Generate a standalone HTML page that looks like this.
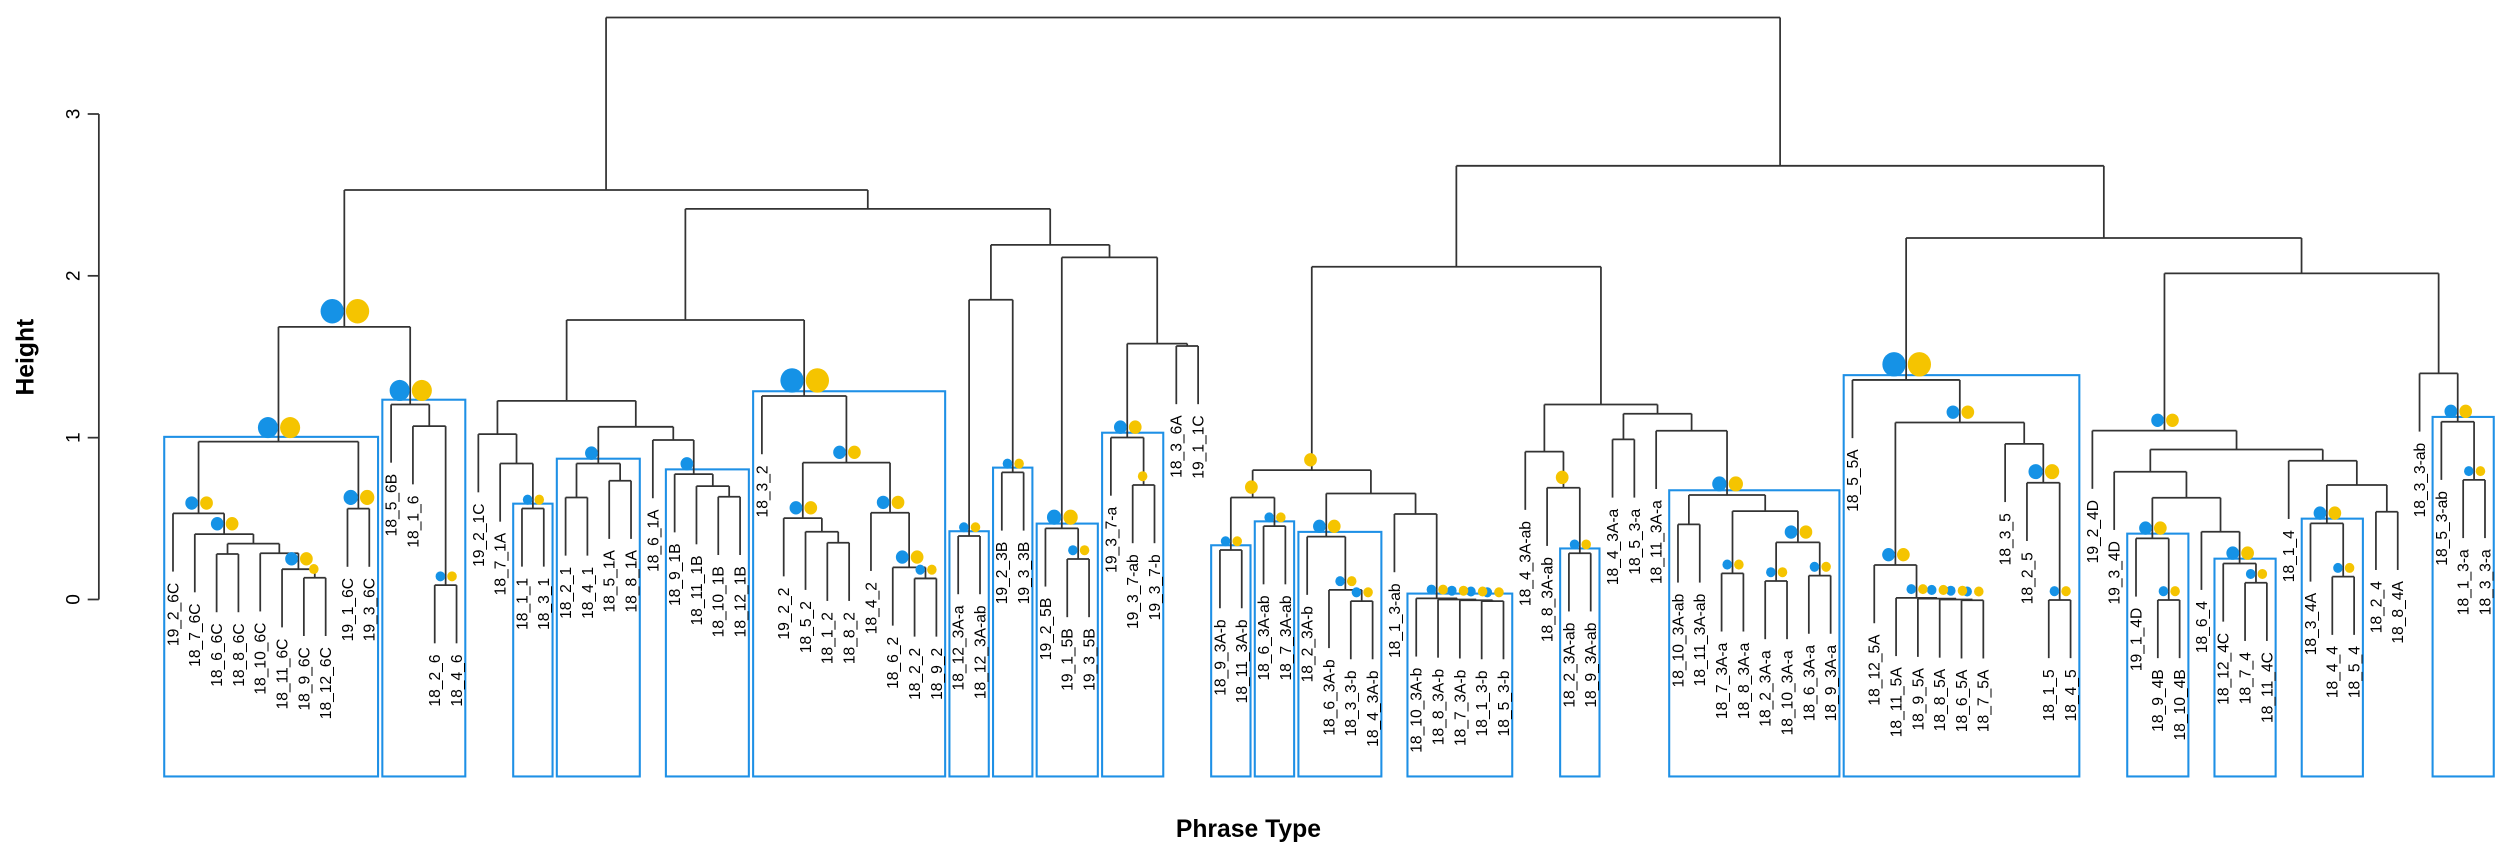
<!DOCTYPE html>
<html><head><meta charset="utf-8"><style>
html,body{margin:0;padding:0;background:#fff;}
svg{display:block;}
text{font-family:"Liberation Sans",Arial,sans-serif;}
</style></head><body>
<svg id="s" xmlns="http://www.w3.org/2000/svg" width="2500" height="849" viewBox="0 0 1568 532.5" preserveAspectRatio="none">
<rect x="0" y="0" width="1568" height="532.5" fill="#fff"/>
<g id="boxes"></g><g id="tree"></g><g id="labels"></g><g id="bub"></g>
<g stroke="#333" stroke-width="1.1">
<line x1="62" y1="71.5" x2="62" y2="376"/>
<line x1="55" y1="376" x2="62" y2="376"/><line x1="55" y1="274.5" x2="62" y2="274.5"/>
<line x1="55" y1="173" x2="62" y2="173"/><line x1="55" y1="71.5" x2="62" y2="71.5"/>
</g>
<g font-size="12" text-anchor="middle" fill="#000">
<text transform="translate(50,376) rotate(-90)">0</text>
<text transform="translate(50,274.5) rotate(-90)">1</text>
<text transform="translate(50,173) rotate(-90)">2</text>
<text transform="translate(50,71.5) rotate(-90)">3</text>
</g>
<text transform="translate(21,224) rotate(-90)" font-size="15.5" font-weight="bold" text-anchor="middle">Height</text>
<text x="783" y="525" font-size="15.5" font-weight="bold" text-anchor="middle">Phrase Type</text>
</svg>
<script>
var names=["19_2_6C","18_7_6C","18_6_6C","18_8_6C","18_10_6C","18_11_6C","18_9_6C","18_12_6C","19_1_6C","19_3_6C","18_5_6B","18_1_6","18_2_6","18_4_6","19_2_1C","18_7_1A","18_1_1","18_3_1","18_2_1","18_4_1","18_5_1A","18_8_1A","18_6_1A","18_9_1B","18_11_1B","18_10_1B","18_12_1B","18_3_2","19_2_2","18_5_2","18_1_2","18_8_2","18_4_2","18_6_2","18_2_2","18_9_2","18_12_3A-a","18_12_3A-ab","19_2_3B","19_3_3B","19_2_5B","19_1_5B","19_3_5B","19_3_7-a","19_3_7-ab","19_3_7-b","18_3_6A","19_1_1C","18_9_3A-b","18_11_3A-b","18_6_3A-ab","18_7_3A-ab","18_2_3A-b","18_6_3A-b","18_3_3-b","18_4_3A-b","18_1_3-ab","18_10_3A-b","18_8_3A-b","18_7_3A-b","18_1_3-b","18_5_3-b","18_4_3A-ab","18_8_3A-ab","18_2_3A-ab","18_9_3A-ab","18_4_3A-a","18_5_3-a","18_11_3A-a","18_10_3A-ab","18_11_3A-ab","18_7_3A-a","18_8_3A-a","18_2_3A-a","18_10_3A-a","18_6_3A-a","18_9_3A-a","18_5_5A","18_12_5A","18_11_5A","18_9_5A","18_8_5A","18_6_5A","18_7_5A","18_3_5","18_2_5","18_1_5","18_4_5","19_2_4D","19_3_4D","19_1_4D","18_9_4B","18_10_4B","18_6_4","18_12_4C","18_7_4","18_11_4C","18_1_4","18_3_4A","18_4_4","18_5_4","18_2_4","18_8_4A","18_3_3-ab","18_5_3-ab","18_1_3-a","18_3_3-a"];
function X(i){return 108.5+13.68*i;}
function N(y,a,b,opt){return {y:y,a:a,b:b,o:opt||{}};}
function o(b,box){var r={};if(b)r.b=b;if(box)r.box=1;return r;}
var BB=[4,'by'],SB=[3,'by'];
var a67=N(362.4,6,7,o([3,'y']));
var a5=N(357,5,a67,o(BB));
var a4=N(347,4,a5);
var a23=N(347.5,2,3);
var aN=N(341,a23,a4);
var aM=N(335,1,aN,o(BB));
var aL=N(322,0,aM,o(BB));
var a89=N(319,8,9,o([4.5,'by']));
var A1=N(277,aL,a89,o([6.3,'by'],1));
var a1213=N(367,12,13,o(SB));
var a11=N(267.3,11,a1213);
var A2=N(253.7,10,a11,o([6.3,'by'],1));
var A=N(205,A1,A2,o([7.3,'by']));
var b1617=N(318.9,16,17,o(SB,1));
var b15=N(290.7,15,b1617);
var b14=N(272.3,14,b15);
var b1819=N(312,18,19);
var b2021=N(301.5,20,21);
var bm=N(290.7,b1819,b2021,o([4,'b'],1));
var b2526=N(311.6,25,26);
var b24=N(304.9,24,b2526);
var b23=N(297.4,23,b24,o([4,'b'],1));
var b22=N(276,22,b23);
var br=N(267.7,bm,b22);
var B=N(251.4,b14,br);
var d3031=N(340.4,30,31);
var d29=N(333.5,29,d3031);
var d28=N(325,28,d29,o(BB));
var d3435=N(362.8,34,35,o(SB));
var d33=N(355.9,33,d3435,o(BB));
var d32=N(321.6,32,d33,o(BB));
var d1=N(290.2,d28,d32,o(BB));
var D=N(248.4,27,d1,o([7.3,'by'],1));
var C1=N(200.7,B,D);
var e1=N(336.2,36,37,o(SB,1));
var e2=N(296.3,38,39,o(SB,1));
var eL=N(188,e1,e2);
var e4142=N(350.6,41,42,o(SB));
var e40=N(331.4,40,e4142,o([4.5,'by'],1));
var e4445=N(304.2,44,45,o([3,'y']));
var e43=N(274.4,43,e4445,o(BB,1));
var e4647=N(217,46,47);
var eRR=N(215.5,e43,e4647);
var eR=N(161.4,e40,eRR);
var E=N(153.6,eL,eR);
var C0=N(131,C1,E);
var LM=N(119.2,A,C0);
var f4849=N(345,48,49,o(SB,1));
var f5051=N(330,50,51,o(SB,1));
var f1L=N(312,f4849,f5051,o([4,'y']));
var f5455=N(377,54,55,o(SB));
var f53=N(370,53,f5455,o(SB));
var f52=N(336.6,52,f53,o(BB,1));
var f6061=N(377,60,61,o(SB));
var f59=N(376.5,59,f6061,o(SB));
var f58=N(376,58,f59,o(SB));
var f57=N(375.3,57,f58,o(SB,1));
var f56=N(322.4,56,f57);
var fR=N(309.5,f52,f56);
var F1=N(294.9,f1L,fR,o([4,'y']));
var g6465=N(347,64,65,o(SB,1));
var g63=N(305.9,63,g6465,o([4,'y']));
var g62=N(283.3,62,g63);
var g6667=N(275.6,66,67);
var g6970=N(328.9,69,70);
var g7172=N(359.6,71,72,o(SB));
var g7374=N(364.4,73,74,o(SB));
var g7576=N(361,75,76,o(SB));
var g73=N(340.2,g7374,g7576,o(BB));
var g71=N(320.6,g7172,g73);
var K=N(310.5,g6970,g71,o([4.5,'by'],1));
var g68=N(270.2,68,K);
var g66=N(259.5,g6667,g68);
var F2=N(253.7,g62,g66);
var F=N(167.3,F1,F2);
var h8283=N(376.5,82,83,o(SB));
var h81=N(376,81,h8283,o(SB));
var h80=N(375.5,80,h81,o(SB));
var h79=N(375,79,h80,o(SB));
var h78=N(354.4,78,h79,o(BB));
var h8687=N(376.3,86,87,o(SB));
var h85=N(302.8,85,h8687,o([4.5,'by']));
var h84=N(278.4,84,h85);
var h1=N(265,h78,h84,o(BB));
var H=N(238.3,77,h1,o([7.3,'by'],1));
var i9192=N(376.3,91,92,o(SB));
var i90=N(337.7,90,i9192,o(BB,1));
var i9596=N(365.5,95,96,o(SB));
var i94=N(353.4,94,i9596,o(BB,1));
var i93=N(333.5,93,i94);
var i9x=N(312.2,i90,i93);
var i89=N(295.9,89,i9x);
var i99=N(361.7,99,100,o(SB));
var i98=N(328.3,98,i99,o(BB,1));
var i101=N(321,101,102);
var i98b=N(304.2,i98,i101);
var i97=N(289,97,i98b);
var iL2=N(281.9,i89,i97);
var iL=N(270.1,88,iL2,o(BB));
var i105=N(301,105,106,o(SB));
var i104=N(264.5,104,i105,o(BB,1));
var iR=N(234.2,103,i104);
var I=N(171.5,iL,iR);
var G=N(149.3,H,I);
var RM=N(104,F,G);
var root=N(11,LM,RM);

var NS="http://www.w3.org/2000/svg";
function el(g,t,a,txt){var e=document.createElementNS(NS,t);for(var k in a)e.setAttribute(k,a[k]);if(txt)e.textContent=txt;document.getElementById(g).appendChild(e);return e;}
function line(x1,y1,x2,y2){el('tree','line',{x1:x1,y1:y1,x2:x2,y2:y2,stroke:'#333','stroke-width':1.1});}
var HANG=36.5;
function draw(n){
 if(typeof n==='number'){return {x:X(n),leaf:true,min:n,max:n,idx:n};}
 var ca=draw(n.a),cb=draw(n.b);
 var cs=[ca,cb];
 for(var j=0;j<2;j++){
   var c=cs[j];
   var bot=c.leaf?n.y+HANG:c.y;
   line(c.x,n.y,c.x,bot);
   if(c.leaf){
     el('labels','text',{transform:'translate('+(c.x+3.4)+','+(n.y+HANG+7)+') rotate(-90)','text-anchor':'end','font-size':9.8},names[c.idx]);
   }
 }
 line(ca.x,n.y,cb.x,n.y);
 var x=(ca.x+cb.x)/2,mn=Math.min(ca.min,cb.min),mx=Math.max(ca.max,cb.max);
 if(n.o.box){el('boxes','rect',{x:X(mn)-5.5,y:n.y-3,width:X(mx)-X(mn)+11,height:487-(n.y-3),fill:'none',stroke:'#1E90E6','stroke-width':1.3});}
 if(n.o.b){var r=n.o.b[0],t=n.o.b[1],cy=n.y-2.5-r;
   if(t.indexOf('b')>=0)el('bub','ellipse',{cx:x-r-0.3,cy:cy,rx:r,ry:r*1.05,fill:'#1592E6'});
   if(t.indexOf('y')>=0)el('bub','ellipse',{cx:(t=='y'?x-r*0.2:x+r+1),cy:cy,rx:r,ry:r*1.05,fill:'#F5C400'});}
 return {x:x,y:n.y,min:mn,max:mx,leaf:false};
}
draw(root);
</script>
</body></html>
